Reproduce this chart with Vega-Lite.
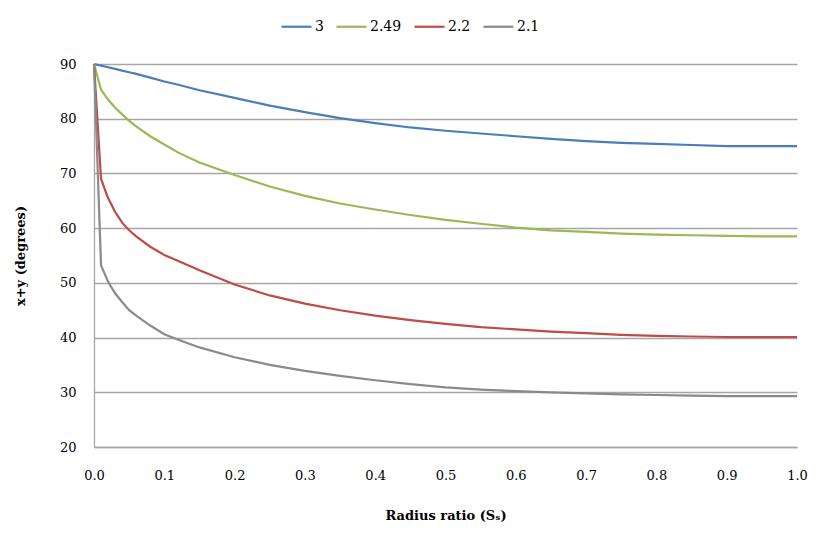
{
  "$schema": "https://vega.github.io/schema/vega-lite/v6.json",
  "width": 703,
  "height": 383,
  "autosize": {"type": "none"},
  "padding": {"left": 94, "top": 64, "right": 31, "bottom": 98},
  "background": "white",
  "config": {
    "view": {"stroke": null},
    "font": "DejaVu Serif"
  },
  "data": {
    "values": [
      {"s": 0, "v": 90, "k": "3"}, {"s": 0.01, "v": 89.7, "k": "3"}, {"s": 0.02, "v": 89.4, "k": "3"}, {"s": 0.03, "v": 89.1, "k": "3"}, {"s": 0.04, "v": 88.8, "k": "3"}, {"s": 0.05, "v": 88.5, "k": "3"}, {"s": 0.06, "v": 88.2, "k": "3"}, {"s": 0.08, "v": 87.5, "k": "3"}, {"s": 0.1, "v": 86.8, "k": "3"}, {"s": 0.12, "v": 86.2, "k": "3"}, {"s": 0.15, "v": 85.2, "k": "3"}, {"s": 0.2, "v": 83.8, "k": "3"}, {"s": 0.25, "v": 82.4, "k": "3"}, {"s": 0.3, "v": 81.2, "k": "3"}, {"s": 0.35, "v": 80.1, "k": "3"}, {"s": 0.4, "v": 79.2, "k": "3"}, {"s": 0.45, "v": 78.4, "k": "3"}, {"s": 0.5, "v": 77.8, "k": "3"}, {"s": 0.55, "v": 77.3, "k": "3"}, {"s": 0.6, "v": 76.8, "k": "3"}, {"s": 0.65, "v": 76.3, "k": "3"}, {"s": 0.7, "v": 75.9, "k": "3"}, {"s": 0.75, "v": 75.6, "k": "3"}, {"s": 0.8, "v": 75.4, "k": "3"}, {"s": 0.85, "v": 75.2, "k": "3"}, {"s": 0.9, "v": 75.0, "k": "3"}, {"s": 0.95, "v": 75.0, "k": "3"}, {"s": 1.0, "v": 75.0, "k": "3"},
      {"s": 0, "v": 90, "k": "2.49"}, {"s": 0.01, "v": 85.3, "k": "2.49"}, {"s": 0.02, "v": 83.5, "k": "2.49"}, {"s": 0.03, "v": 82.0, "k": "2.49"}, {"s": 0.04, "v": 80.8, "k": "2.49"}, {"s": 0.05, "v": 79.6, "k": "2.49"}, {"s": 0.06, "v": 78.6, "k": "2.49"}, {"s": 0.08, "v": 76.8, "k": "2.49"}, {"s": 0.1, "v": 75.3, "k": "2.49"}, {"s": 0.12, "v": 73.8, "k": "2.49"}, {"s": 0.15, "v": 72.0, "k": "2.49"}, {"s": 0.2, "v": 69.7, "k": "2.49"}, {"s": 0.25, "v": 67.6, "k": "2.49"}, {"s": 0.3, "v": 65.9, "k": "2.49"}, {"s": 0.35, "v": 64.5, "k": "2.49"}, {"s": 0.4, "v": 63.4, "k": "2.49"}, {"s": 0.45, "v": 62.4, "k": "2.49"}, {"s": 0.5, "v": 61.5, "k": "2.49"}, {"s": 0.55, "v": 60.8, "k": "2.49"}, {"s": 0.6, "v": 60.1, "k": "2.49"}, {"s": 0.65, "v": 59.6, "k": "2.49"}, {"s": 0.7, "v": 59.3, "k": "2.49"}, {"s": 0.75, "v": 59.0, "k": "2.49"}, {"s": 0.8, "v": 58.8, "k": "2.49"}, {"s": 0.85, "v": 58.7, "k": "2.49"}, {"s": 0.9, "v": 58.6, "k": "2.49"}, {"s": 0.95, "v": 58.5, "k": "2.49"}, {"s": 1.0, "v": 58.5, "k": "2.49"},
      {"s": 0, "v": 90, "k": "2.2"}, {"s": 0.01, "v": 69.0, "k": "2.2"}, {"s": 0.02, "v": 65.5, "k": "2.2"}, {"s": 0.03, "v": 63.0, "k": "2.2"}, {"s": 0.04, "v": 61.0, "k": "2.2"}, {"s": 0.05, "v": 59.6, "k": "2.2"}, {"s": 0.06, "v": 58.5, "k": "2.2"}, {"s": 0.08, "v": 56.6, "k": "2.2"}, {"s": 0.1, "v": 55.1, "k": "2.2"}, {"s": 0.12, "v": 54.0, "k": "2.2"}, {"s": 0.15, "v": 52.3, "k": "2.2"}, {"s": 0.2, "v": 49.7, "k": "2.2"}, {"s": 0.25, "v": 47.7, "k": "2.2"}, {"s": 0.3, "v": 46.2, "k": "2.2"}, {"s": 0.35, "v": 45.0, "k": "2.2"}, {"s": 0.4, "v": 44.0, "k": "2.2"}, {"s": 0.45, "v": 43.2, "k": "2.2"}, {"s": 0.5, "v": 42.5, "k": "2.2"}, {"s": 0.55, "v": 41.9, "k": "2.2"}, {"s": 0.6, "v": 41.5, "k": "2.2"}, {"s": 0.65, "v": 41.1, "k": "2.2"}, {"s": 0.7, "v": 40.8, "k": "2.2"}, {"s": 0.75, "v": 40.5, "k": "2.2"}, {"s": 0.8, "v": 40.3, "k": "2.2"}, {"s": 0.85, "v": 40.2, "k": "2.2"}, {"s": 0.9, "v": 40.1, "k": "2.2"}, {"s": 0.95, "v": 40.1, "k": "2.2"}, {"s": 1.0, "v": 40.1, "k": "2.2"},
      {"s": 0, "v": 90, "k": "2.1"}, {"s": 0.01, "v": 53.2, "k": "2.1"}, {"s": 0.02, "v": 50.2, "k": "2.1"}, {"s": 0.03, "v": 48.1, "k": "2.1"}, {"s": 0.04, "v": 46.5, "k": "2.1"}, {"s": 0.05, "v": 45.0, "k": "2.1"}, {"s": 0.06, "v": 44.0, "k": "2.1"}, {"s": 0.08, "v": 42.2, "k": "2.1"}, {"s": 0.1, "v": 40.6, "k": "2.1"}, {"s": 0.12, "v": 39.6, "k": "2.1"}, {"s": 0.15, "v": 38.2, "k": "2.1"}, {"s": 0.2, "v": 36.4, "k": "2.1"}, {"s": 0.25, "v": 35.0, "k": "2.1"}, {"s": 0.3, "v": 33.9, "k": "2.1"}, {"s": 0.35, "v": 33.0, "k": "2.1"}, {"s": 0.4, "v": 32.2, "k": "2.1"}, {"s": 0.45, "v": 31.5, "k": "2.1"}, {"s": 0.5, "v": 30.9, "k": "2.1"}, {"s": 0.55, "v": 30.5, "k": "2.1"}, {"s": 0.6, "v": 30.2, "k": "2.1"}, {"s": 0.65, "v": 30.0, "k": "2.1"}, {"s": 0.7, "v": 29.8, "k": "2.1"}, {"s": 0.75, "v": 29.6, "k": "2.1"}, {"s": 0.8, "v": 29.5, "k": "2.1"}, {"s": 0.85, "v": 29.4, "k": "2.1"}, {"s": 0.9, "v": 29.3, "k": "2.1"}, {"s": 0.95, "v": 29.3, "k": "2.1"}, {"s": 1.0, "v": 29.3, "k": "2.1"}
    ]
  },
  "mark": {"type": "line", "strokeWidth": 2.2, "interpolate": "linear"},
  "encoding": {
    "x": {
      "field": "s", "type": "quantitative",
      "scale": {"domain": [0, 1], "nice": false, "zero": false},
      "axis": {
        "title": "Radius ratio (Sₛ)",
        "values": [0, 0.1, 0.2, 0.3, 0.4, 0.5, 0.6, 0.7, 0.8, 0.9, 1.0],
        "format": ".1f",
        "grid": false, "ticks": false,
        "domainColor": "#a6a6a6", "domainWidth": 1.3,
        "labelFont": "DejaVu Serif", "labelFontSize": 13, "labelColor": "#000000",
        "labelPadding": 22, "labelFlush": false,
        "titleFont": "DejaVu Serif", "titleFontSize": 13, "titleFontWeight": "bold", "titleColor": "#000000",
        "titlePadding": 27
      }
    },
    "y": {
      "field": "v", "type": "quantitative",
      "scale": {"domain": [20, 90], "nice": false, "zero": false},
      "axis": {
        "title": "x+y (degrees)",
        "values": [20, 30, 40, 50, 60, 70, 80, 90],
        "grid": true, "gridColor": "#a6a6a6", "gridWidth": 1.3,
        "ticks": false,
        "domainColor": "#a6a6a6", "domainWidth": 1.3,
        "labelFont": "DejaVu Serif", "labelFontSize": 13, "labelColor": "#000000",
        "labelPadding": 18,
        "titleFont": "DejaVu Serif", "titleFontSize": 13, "titleFontWeight": "bold", "titleColor": "#000000",
        "titlePadding": 32
      }
    },
    "color": {
      "field": "k", "type": "nominal",
      "sort": ["3", "2.49", "2.2", "2.1"],
      "scale": {"domain": ["3", "2.49", "2.2", "2.1"], "range": ["#4A7EBB", "#98B954", "#BE4B48", "#8A8A8A"]},
      "legend": {
        "title": null,
        "orient": "none",
        "legendX": 186,
        "legendY": -54,
        "direction": "horizontal",
        "symbolType": "stroke",
        "symbolStrokeWidth": 2.2,
        "symbolSize": 900,
        "labelFont": "DejaVu Serif",
        "labelFontSize": 14,
        "labelColor": "#000000",
        "labelOffset": 2,
        "columnPadding": 8
      }
    }
  }
}
